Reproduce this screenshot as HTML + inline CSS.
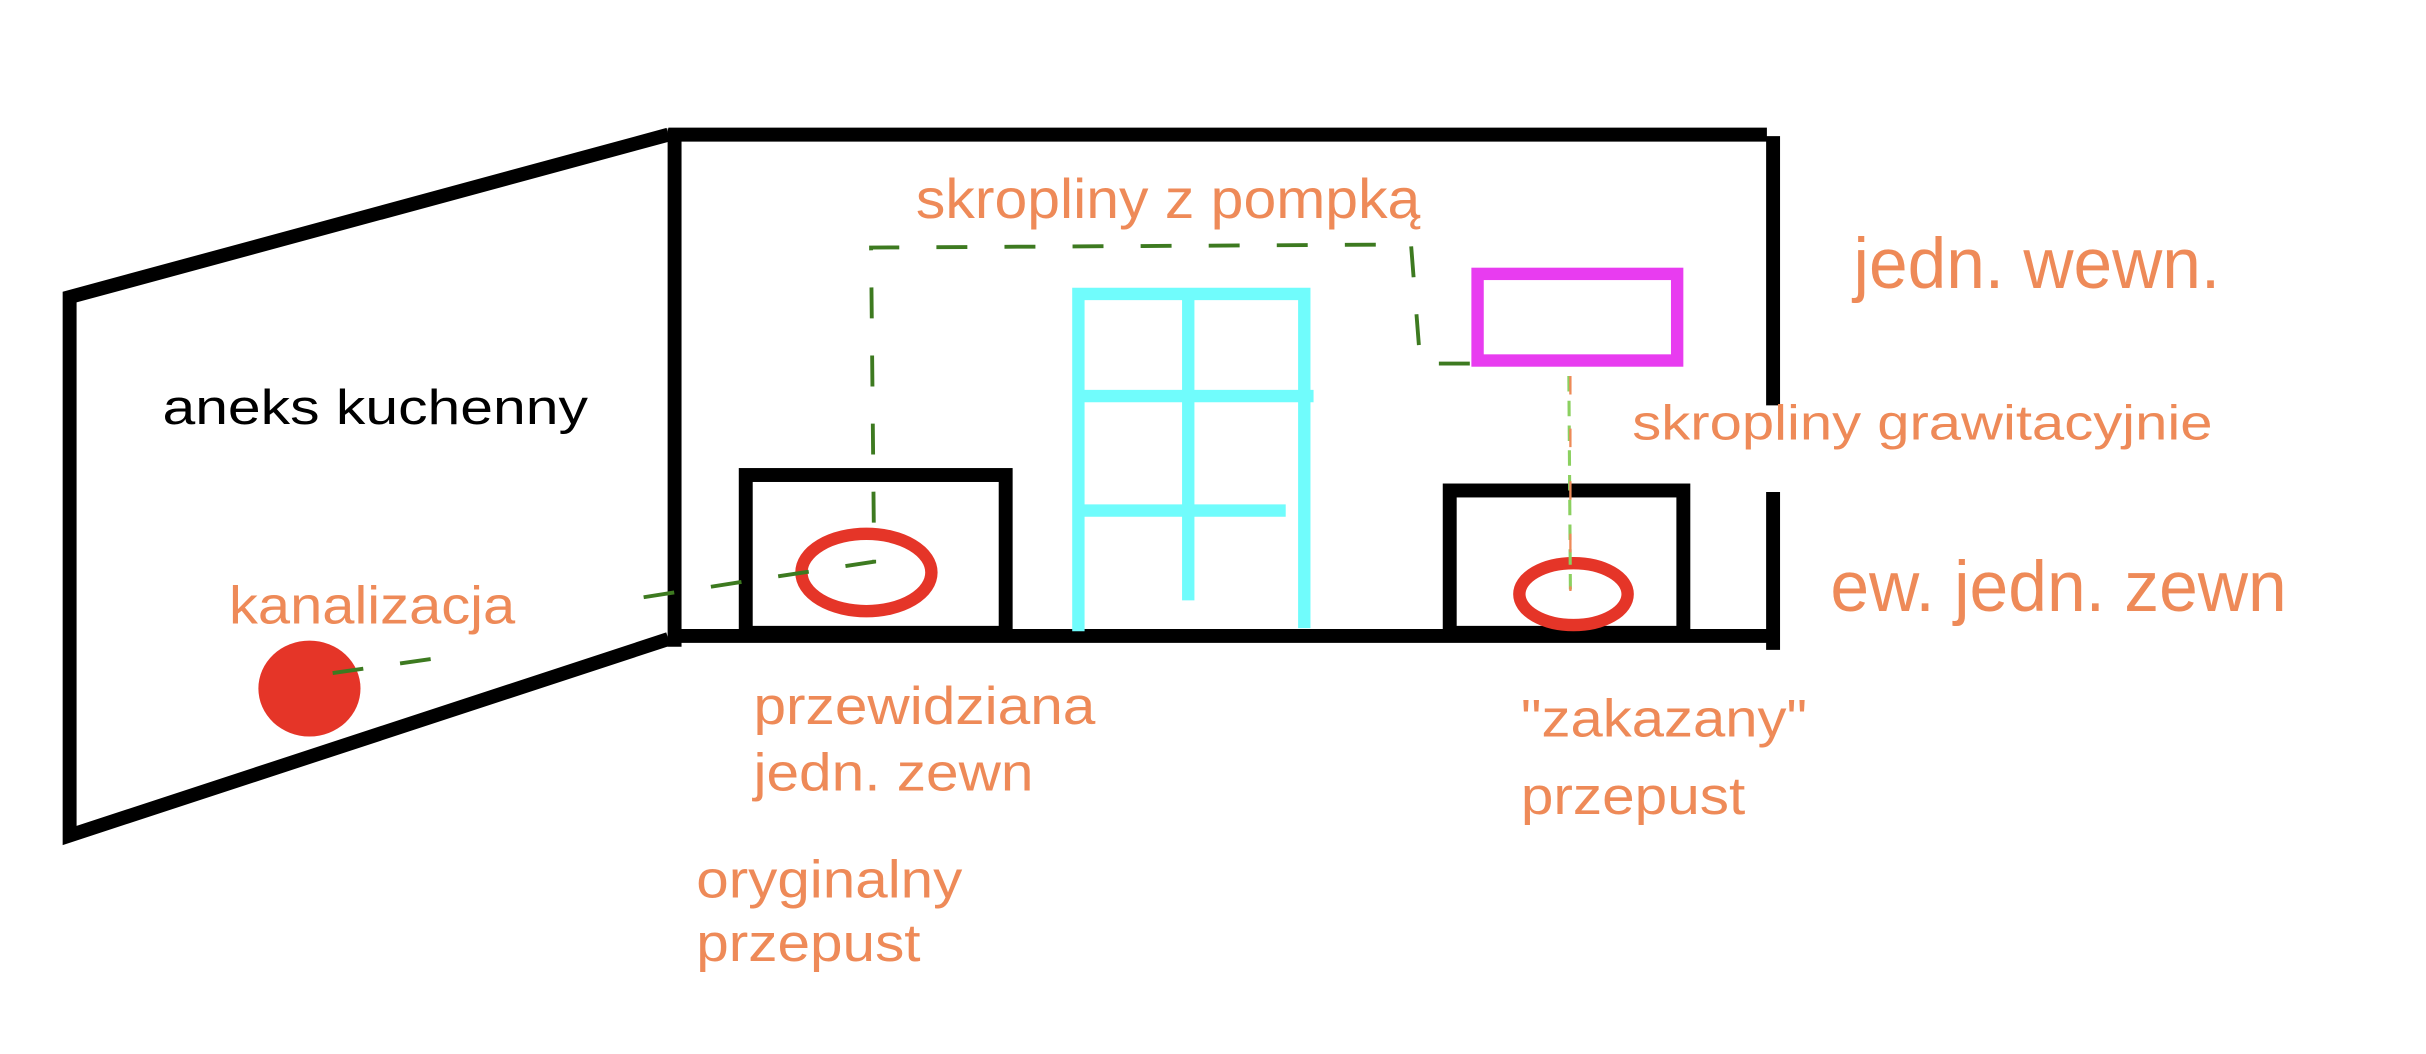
<!DOCTYPE html>
<html><head><meta charset="utf-8"><style>
html,body{margin:0;padding:0;background:#fff;}
svg{display:block;}
text{font-family:"Liberation Sans",Arial,sans-serif;}
.o{fill:#ee8a58;}
</style></head><body>
<svg width="2426" height="1054" viewBox="0 0 1568 681.2" xmlns="http://www.w3.org/2000/svg">
<rect width="1568" height="682" fill="#fff"/>
<g stroke="#000" stroke-width="9" fill="none">
<polyline points="432,87 45,192 45,540 432,413"/>
<line x1="436" y1="83" x2="436" y2="418"/>
<line x1="432" y1="87" x2="1142" y2="87"/>
<line x1="1146" y1="88" x2="1146" y2="262"/>
<line x1="1146" y1="318" x2="1146" y2="420"/>
<line x1="432" y1="411" x2="1146" y2="411"/>
<rect x="482" y="307" width="168" height="102"/>
<rect x="937" y="317" width="151" height="92"/>
</g>
<g stroke="#70fcfc" stroke-width="8" fill="none">
<polyline points="697,408 697,190 843,190 843,406"/>
<line x1="768" y1="190" x2="768" y2="388"/>
<line x1="697" y1="256" x2="849" y2="256"/>
<line x1="697" y1="330" x2="831" y2="330"/>
</g>
<rect x="955" y="177" width="129" height="56" fill="none" stroke="#e83cf0" stroke-width="8"/>
<ellipse cx="560" cy="370" rx="42" ry="25" fill="none" stroke="#e53528" stroke-width="8"/>
<ellipse cx="1017" cy="384" rx="35" ry="20" fill="none" stroke="#e53528" stroke-width="8"/>
<ellipse cx="200" cy="445" rx="33" ry="31" fill="#e53528"/>
<g stroke="#3d7a20" stroke-width="2.5" fill="none" stroke-dasharray="20,24">
<polyline points="416,386 480,376 565,363 563,160 912,158 918,235 952,235"/>
<line x1="215" y1="435" x2="292" y2="424"/>
</g>
<line x1="1014" y1="243" x2="1015" y2="382" stroke="#8bd060" stroke-width="2" stroke-dasharray="10,6"/>
<line x1="1015" y1="243" x2="1015" y2="382" stroke="#ee8a58" stroke-width="1.5" stroke-dasharray="12,22"/>
<text x="105" y="274" font-size="32" textLength="275" lengthAdjust="spacingAndGlyphs" fill="#000">aneks kuchenny</text>
<text class="o" x="592" y="141" font-size="36" textLength="326" lengthAdjust="spacingAndGlyphs">skropliny z pompką</text>
<text class="o" x="1198" y="186" font-size="46" textLength="237" lengthAdjust="spacingAndGlyphs">jedn. wewn.</text>
<text class="o" x="1055" y="284" font-size="32" textLength="375" lengthAdjust="spacingAndGlyphs">skropliny grawitacyjnie</text>
<text class="o" x="1183" y="395" font-size="46" textLength="295" lengthAdjust="spacingAndGlyphs">ew. jedn. zewn</text>
<text class="o" x="148" y="403" font-size="34" textLength="185" lengthAdjust="spacingAndGlyphs">kanalizacja</text>
<text class="o" x="487" y="468" font-size="34" textLength="221" lengthAdjust="spacingAndGlyphs">przewidziana</text>
<text class="o" x="487" y="511" font-size="34" textLength="181" lengthAdjust="spacingAndGlyphs">jedn. zewn</text>
<text class="o" x="450" y="580" font-size="34" textLength="172" lengthAdjust="spacingAndGlyphs">oryginalny</text>
<text class="o" x="450" y="621" font-size="34" textLength="145" lengthAdjust="spacingAndGlyphs">przepust</text>
<text class="o" x="983" y="476" font-size="34" textLength="185" lengthAdjust="spacingAndGlyphs">"zakazany"</text>
<text class="o" x="983" y="526" font-size="34" textLength="145" lengthAdjust="spacingAndGlyphs">przepust</text>
</svg>
</body></html>
